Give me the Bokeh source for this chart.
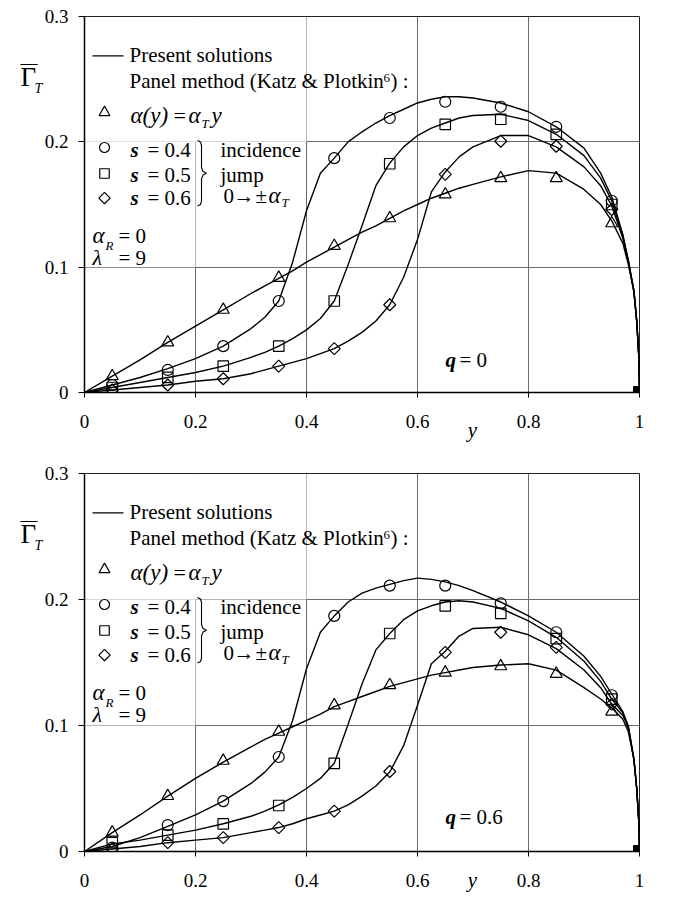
from bokeh.plotting import figure
from bokeh.layouts import column
from bokeh.models import Label, BoxAnnotation, FixedTicker, NumeralTickFormatter, Range1d
from bokeh.embed import file_html
from bokeh.resources import INLINE

SERIF = "Liberation Serif"

# ---------------- data ----------------
# spanwise stations of the panel-method points
panel_y = [0.05, 0.15, 0.25, 0.35, 0.45, 0.55, 0.65, 0.75, 0.85, 0.95]
tip_y = [1.0]
tip_g = [0.0]

# q = 0 (top panel), panel method points
q0_lin = [0.013, 0.040, 0.066, 0.0915, 0.117, 0.139, 0.158, 0.171, 0.171, 0.135]
q0_s04 = [0.006, 0.018, 0.037, 0.073, 0.187, 0.219, 0.232, 0.228, 0.212, 0.153]
q0_s05 = [0.004, 0.012, 0.021, 0.037, 0.073, 0.1825, 0.214, 0.218, 0.206, 0.150]
q0_s06 = [0.002, 0.006, 0.011, 0.021, 0.035, 0.070, 0.174, 0.2005, 0.1965, 0.146]

# q = 0.6 (bottom panel), panel method points
q6_lin = [0.015, 0.044, 0.072, 0.095, 0.116, 0.132, 0.142, 0.147, 0.141, 0.111]
q6_s04 = [0.003, 0.021, 0.040, 0.075, 0.187, 0.211, 0.211, 0.197, 0.174, 0.124]
q6_s05 = [0.007, 0.013, 0.022, 0.0365, 0.070, 0.173, 0.195, 0.189, 0.169, 0.121]
q6_s06 = [0.002, 0.007, 0.011, 0.019, 0.032, 0.0635, 0.158, 0.174, 0.162, 0.117]

# present solutions (curves), read at these stations
curve_y = [0, .05, .1, .15, .2, .25, .3, .325, .35, .375, .4, .425, .45, .475, .5, .525,
           .55, .575, .6, .625, .65, .675, .7, .75, .8, .85, .9, .93, .95, .97, .98, .99,
           .995, .999, 1.0]

c0_lin = [0, .013, .026, .040, .053, .066, .079, .085, .091, .097, .104, .110, .116, .122,
          .128, .133, .139, .145, .150, .155, .159, .163, .166, .172, .177, .175, .162,
          .150, .137, .119, .102, .080, .057, .027, 0]
c0_s04 = [0, .006, .012, .019, .027, .037, .051, .060, .073, .104, .145, .175, .187, .200,
          .208, .215, .221, .226, .231, .234, .236, .236, .235, .231, .224, .212, .195,
          .175, .156, .126, .105, .081, .057, .027, 0]
c0_s05 = [0, .004, .008, .012, .016, .021, .028, .032, .037, .043, .050, .059, .073, .102,
          .133, .165, .183, .196, .205, .211, .215, .219, .221, .222, .217, .206, .189,
          .171, .153, .125, .105, .081, .057, .027, 0]
c0_s06 = [0, .002, .004, .006, .009, .011, .015, .018, .021, .024, .027, .031, .035, .041,
          .048, .057, .070, .092, .122, .160, .176, .188, .196, .205, .205, .196, .180,
          .165, .149, .123, .104, .080, .057, .027, 0]

c6_lin = [0, .015, .029, .044, .058, .071, .083, .089, .094, .099, .104, .109, .115, .119,
          .123, .127, .131, .134, .137, .140, .142, .144, .146, .148, .149, .144, .130,
          .121, .114, .105, .095, .073, .050, .022, 0]
c6_s04 = [0, .004, .011, .020, .029, .040, .054, .063, .075, .104, .145, .174, .187, .198,
          .205, .209, .212, .215, .217, .216, .214, .211, .207, .198, .187, .174, .155,
          .139, .125, .111, .099, .073, .050, .022, 0]
c6_s05 = [0, .006, .009, .013, .017, .022, .028, .032, .037, .043, .050, .058, .070, .101,
          .133, .160, .173, .184, .191, .195, .198, .199, .198, .193, .183, .170, .151,
          .135, .121, .110, .099, .073, .050, .022, 0]
c6_s06 = [0, .002, .004, .007, .009, .011, .015, .017, .019, .022, .026, .029, .032, .037,
          .044, .052, .063, .084, .116, .149, .159, .171, .177, .178, .172, .161, .144,
          .130, .117, .108, .098, .073, .050, .022, 0]

x_ticks = [0, 0.2, 0.4, 0.6, 0.8, 1.0]
y_ticks = [0, 0.1, 0.2, 0.3]

FRAME_W = 555
X0, X1, Y0, Y1 = 0.0, 1.0, 0.0, 0.3
BASE_K = 0.38   # baseline correction of rendered labels (fraction of font size)


def make_panel(q_text, pts, curves, frame_h, top_b, bottom_b, xlab_dy):
    p = figure(frame_width=FRAME_W, frame_height=frame_h,
               min_border_left=84, min_border_right=39,
               min_border_top=top_b, min_border_bottom=bottom_b,
               x_range=Range1d(X0, X1), y_range=Range1d(Y0, Y1),
               output_backend="svg", toolbar_location=None,
               background_fill_color="white", border_fill_color="white")
    p.outline_line_color = "#222222"
    p.outline_line_width = 1

    for ax, ticks, out, standoff in ((p.xaxis[0], x_ticks, 5, 17), (p.yaxis[0], y_ticks, 6, 10)):
        ax.ticker = FixedTicker(ticks=ticks)
        ax.formatter = NumeralTickFormatter(format="0.[0]")
        ax.major_label_text_font = SERIF
        ax.major_label_text_font_size = "19px"
        ax.major_label_text_color = "black"
        ax.axis_line_color = "black"
        ax.axis_line_width = 1.5
        ax.major_tick_line_color = "black"
        ax.major_tick_out = out
        ax.major_tick_in = 0
        ax.minor_tick_line_color = None
        ax.major_label_standoff = standoff

    p.xgrid.ticker = FixedTicker(ticks=[0.2, 0.4, 0.6, 0.8])
    p.ygrid.ticker = FixedTicker(ticks=[0.1, 0.2])
    for g in (p.xgrid[0], p.ygrid[0]):
        g.grid_line_color = "#6a6a6a"
        g.grid_line_width = 1

    ppu = frame_h / (Y1 - Y0)

    def dxy(dx, dy):
        return X0 + dx / FRAME_W * (X1 - X0), Y1 - dy / ppu

    # white legend background (hides the grid behind the key)
    for l, r, b, t in ((0.002, 0.4, 0.2, 0.2995), (0.002, 0.2, 0.1, 0.2)):
        p.add_layout(BoxAnnotation(left=l, right=r, bottom=b, top=t, fill_color="white",
                                   fill_alpha=1.0, line_alpha=0, level="underlay"))

    # curves
    for c in curves:
        p.line(curve_y, c, line_color="black", line_width=1.4)

    lin, s04, s05, s06 = pts
    mk = dict(fill_color=None, line_color="black", line_width=1.2)
    p.scatter(panel_y, lin, marker="triangle", size=12, **mk)
    p.scatter(panel_y, s04, marker="circle", size=11, **mk)
    p.scatter(panel_y, s05, marker="square", size=10.5, **mk)
    p.scatter(panel_y, s06, marker="square", angle=0.785398, size=8.5, **mk)
    p.scatter(tip_y, tip_g, marker="square", size=12, fill_color="black", line_color="black")

    def txt(dx, dy, text, size=21, style="normal", align="left", place=None):
        x, y = dxy(dx, dy - BASE_K * size)
        lab = Label(x=x, y=y, text=text, text_font=SERIF,
                    text_font_size=f"{size}px", text_font_style=style,
                    text_align=align, text_baseline="alphabetic", text_color="black")
        if place is None:
            p.add_layout(lab)
        else:
            p.add_layout(lab, place)

    # key
    lx0, ly = dxy(8, 39.3)
    lx1, _ = dxy(39, 39.3)
    p.line([lx0, lx1], [ly, ly], line_color="black", line_width=1.2)
    txt(45, 46.3, "Present solutions")
    txt(45, 72.3, "Panel method (Katz & Plotkin")
    txt(299, 66, "6", size=13)
    txt(306, 72.3, ") :")

    for dy, m, sz, ang in ((96, "triangle", 11, 0), (131, "circle", 10, 0),
                           (157, "square", 9.5, 0), (181.6, "square", 8, 0.785398)):
        kx, ky = dxy(20, dy)
        p.scatter([kx], [ky], marker=m, size=sz, angle=ang, **mk)

    txt(46, 107.3, "α(y)", size=23, style="italic")
    txt(89, 107.3, "=", size=22)
    txt(104, 107.3, "α", size=23, style="italic")
    txt(117, 112.3, "T", size=13, style="italic")
    txt(127, 107.3, "y", size=23, style="italic")

    for dy, s in ((141.3, "0.4"), (166.3, "0.5"), (189.3, "0.6")):
        txt(46, dy, "s", style="bold italic")
        txt(63, dy, "= " + s)

    # brace
    brace = [(113, 124), (116, 125.5), (117, 129), (117, 151), (118.5, 155), (122, 156.8),
             (118.5, 158.6), (117, 162.5), (117, 184.5), (116, 188), (113, 189.5)]
    bx = [dxy(a, b)[0] for a, b in brace]
    by = [dxy(a, b)[1] for a, b in brace]
    p.line(bx, by, line_color="black", line_width=1.1)

    txt(136, 141.3, "incidence")
    txt(136, 166.3, "jump")
    txt(139, 187.3, "0")
    txt(149, 187.3, "→")
    txt(171, 187.3, "±")
    txt(184, 187.3, "α", size=23, style="italic")
    txt(197, 191.3, "T", size=13, style="italic")

    txt(8, 227.3, "α", size=23, style="italic")
    txt(21, 233.5, "R", size=13, style="italic")
    txt(34, 227.3, "= 0")
    txt(8, 249.3, "λ", size=22, style="italic")
    txt(34, 249.3, "= 9")

    txt(361, 351.5, "q", style="bold italic")
    txt(375, 351.5, "= " + q_text)

    # axis titles (placed in side panels so they are not clipped to the frame)
    txt(-64, 70.3, "Γ", size=27, place="left")
    txt(-64, 52, "—", size=17, place="left")
    txt(-50, 77.3, "T", size=14, style="italic", place="left")
    txt(388, xlab_dy, "y", style="italic", align="center", place="right")
    return p


p1 = make_panel("0", (q0_lin, q0_s04, q0_s05, q0_s06),
                (c0_lin, c0_s04, c0_s05, c0_s06), 376, 16, 58, 421.8)
p2 = make_panel("0.6", (q6_lin, q6_s04, q6_s05, q6_s06),
                (c6_lin, c6_s04, c6_s05, c6_s06), 378, 23, 49, 414)

layout = column(p1, p2, spacing=0)
open("out.html", "w").write(file_html(layout, INLINE))
